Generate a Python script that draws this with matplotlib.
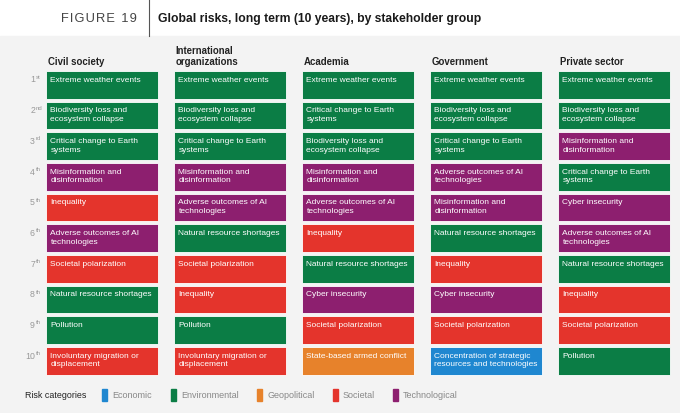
import matplotlib
matplotlib.use("Agg")
from matplotlib import pyplot as plt
from matplotlib.patches import Rectangle

plt.rcParams["font.family"] = ["Liberation Sans", "DejaVu Sans"]

# risk category colours
category_colors = {
    "Economic": "#1f87d0",
    "Environmental": "#0b7d45",
    "Geopolitical": "#e7822b",
    "Societal": "#e4342c",
    "Technological": "#8d1f6f",
}
categories = ["Economic", "Environmental", "Geopolitical", "Societal", "Technological"]

groups = ["Civil society", "International\norganizations", "Academia", "Government", "Private sector"]
ranks = ["1", "2", "3", "4", "5", "6", "7", "8", "9", "10"]
rank_suffix = ["st", "nd", "rd", "th", "th", "th", "th", "th", "th", "th"]

civil_society = [
    ("Extreme weather events", "Environmental"),
    ("Biodiversity loss and\necosystem collapse", "Environmental"),
    ("Critical change to Earth\nsystems", "Environmental"),
    ("Misinformation and\ndisinformation", "Technological"),
    ("Inequality", "Societal"),
    ("Adverse outcomes of AI\ntechnologies", "Technological"),
    ("Societal polarization", "Societal"),
    ("Natural resource shortages", "Environmental"),
    ("Pollution", "Environmental"),
    ("Involuntary migration or\ndisplacement", "Societal"),
]
international_orgs = [
    ("Extreme weather events", "Environmental"),
    ("Biodiversity loss and\necosystem collapse", "Environmental"),
    ("Critical change to Earth\nsystems", "Environmental"),
    ("Misinformation and\ndisinformation", "Technological"),
    ("Adverse outcomes of AI\ntechnologies", "Technological"),
    ("Natural resource shortages", "Environmental"),
    ("Societal polarization", "Societal"),
    ("Inequality", "Societal"),
    ("Pollution", "Environmental"),
    ("Involuntary migration or\ndisplacement", "Societal"),
]
academia = [
    ("Extreme weather events", "Environmental"),
    ("Critical change to Earth\nsystems", "Environmental"),
    ("Biodiversity loss and\necosystem collapse", "Environmental"),
    ("Misinformation and\ndisinformation", "Technological"),
    ("Adverse outcomes of AI\ntechnologies", "Technological"),
    ("Inequality", "Societal"),
    ("Natural resource shortages", "Environmental"),
    ("Cyber insecurity", "Technological"),
    ("Societal polarization", "Societal"),
    ("State-based armed conflict", "Geopolitical"),
]
government = [
    ("Extreme weather events", "Environmental"),
    ("Biodiversity loss and\necosystem collapse", "Environmental"),
    ("Critical change to Earth\nsystems", "Environmental"),
    ("Adverse outcomes of AI\ntechnologies", "Technological"),
    ("Misinformation and\ndisinformation", "Technological"),
    ("Natural resource shortages", "Environmental"),
    ("Inequality", "Societal"),
    ("Cyber insecurity", "Technological"),
    ("Societal polarization", "Societal"),
    ("Concentration of strategic\nresources and technologies", "Economic"),
]
private_sector = [
    ("Extreme weather events", "Environmental"),
    ("Biodiversity loss and\necosystem collapse", "Environmental"),
    ("Misinformation and\ndisinformation", "Technological"),
    ("Critical change to Earth\nsystems", "Environmental"),
    ("Cyber insecurity", "Technological"),
    ("Adverse outcomes of AI\ntechnologies", "Technological"),
    ("Natural resource shortages", "Environmental"),
    ("Inequality", "Societal"),
    ("Societal polarization", "Societal"),
    ("Pollution", "Environmental"),
]
columns = [civil_society, international_orgs, academia, government, private_sector]

# layout in pixel units
W, H = 680, 414
col_x0, col_pitch, box_w = 46, 128, 112
row_y0, row_pitch, box_h = 72, 30.67, 27.5

fig = plt.figure(figsize=(W / 100, H / 100), dpi=100)
ax = fig.add_axes([0, 0, 1, 1])
ax.set_xlim(0, W)
ax.set_ylim(H, 0)
ax.axis("off")

# grey panel + title band
ax.add_patch(Rectangle((0, 37), W, H - 37, color="#f3f3f3", zorder=0))
ax.plot([148.5, 148.5], [0, 37], color="#555555", lw=0.8)
fig_label = "\u200a".join("FIGURE") + "\u2009\u2009\u200a" + "\u200a".join("19")
ax.text(137, 19, fig_label, ha="right", va="center", fontsize=9.3, color="#444444")
ax.text(158, 19, "Global risks, long term (10 years), by stakeholder group",
        ha="left", va="center", fontsize=8.7, fontweight="bold", color="#1a1a1a")

for c, (name, col) in enumerate(zip(groups, columns)):
    x = col_x0 + c * col_pitch
    ax.text(x + 1.5, 67, name, ha="left", va="bottom", fontsize=6.9, fontweight="bold",
            color="#222222", linespacing=1.15)
    for r, (label, cat) in enumerate(col):
        y = row_y0 + r * row_pitch
        ax.add_patch(Rectangle((x, y), box_w, box_h, facecolor=category_colors[cat],
                               edgecolor="white", lw=0.6, zorder=2))
        ax.text(x + 4.5, y + 4.8, label, ha="left", va="top", fontsize=6.05, color="white",
                linespacing=1.3, zorder=3)

for r, (num, suf) in enumerate(zip(ranks, rank_suffix)):
    y = row_y0 + r * row_pitch + 8
    ax.text(35, y, num, ha="right", va="center", fontsize=6.3, color="#999999")
    ax.text(35.5, y - 2.5, suf, ha="left", va="center", fontsize=4.3, color="#999999")

# legend
ax.text(25, 396, "Risk categories", ha="left", va="center", fontsize=6.4, color="#222222")
legend_x = [102, 171, 257, 333, 393]
for lx, cat in zip(legend_x, categories):
    ax.add_patch(Rectangle((lx, 390), 4.5, 12, color=category_colors[cat], zorder=2))
    ax.text(lx + 10, 396, cat, ha="left", va="center", fontsize=6.5, color="#888888")

fig.savefig("out.png", dpi=100)
